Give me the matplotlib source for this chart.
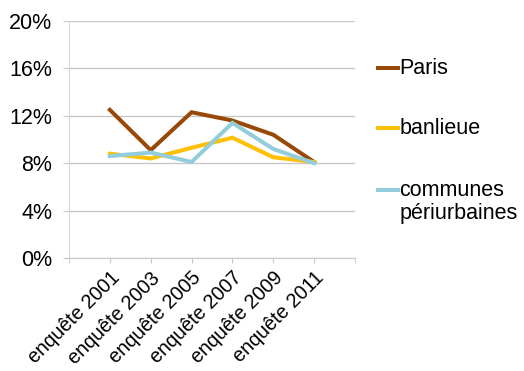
import matplotlib.pyplot as plt
from matplotlib.lines import Line2D
from matplotlib.ticker import FuncFormatter

plt.rcParams['font.family'] = ['Liberation Sans', 'DejaVu Sans']

categories = ['enquête 2001', 'enquête 2003', 'enquête 2005',
              'enquête 2007', 'enquête 2009', 'enquête 2011']
paris = [12.5, 9.1, 12.3, 11.6, 10.4, 8.1]
banlieue = [8.8, 8.4, 9.3, 10.15, 8.5, 8.1]
periurbaines = [8.6, 8.9, 8.1, 11.4, 9.2, 8.0]

series_names = ['Paris', 'banlieue', 'communes\npériurbaines']
colors = ['#984807', '#FFC000', '#92CDDC']

fig = plt.figure(figsize=(5.24, 3.71), dpi=100)
ax = fig.add_axes((0.1317, 0.3046, 0.5458, 0.6388))

x = list(range(len(categories)))
for vals, c in zip([paris, banlieue, periurbaines], colors):
    ax.plot(x, vals, color=c, lw=2.9, solid_joinstyle='miter')

grid_c = '#C8C8C8'
ax.set_xlim(-1, len(categories))
ax.set_ylim(0, 20)
ax.set_yticks(range(0, 21, 4))
ax.yaxis.set_major_formatter(FuncFormatter(lambda v, p: '%d%%' % v))
ax.grid(axis='y', color=grid_c, lw=1)
ax.set_axisbelow(True)

ax.set_xticks(x)
ax.set_xticklabels(categories, rotation=45, ha='right', rotation_mode='anchor')
ax.set_xticks([-1, len(categories)], minor=True)

for s in ['top', 'right']:
    ax.spines[s].set_visible(False)
ax.spines['left'].set_color('#D9D9D9')
ax.spines['bottom'].set_color(grid_c)
ax.tick_params(axis='both', which='both', colors=grid_c, labelcolor='black')
ax.tick_params(axis='y', length=4.5, pad=7.5, labelsize=15.5)
ax.tick_params(axis='x', which='both', length=3.5, pad=4, labelsize=14.2)

# legend drawn by hand so the handle sits on the first line of text
leg_y = [0.818, 0.654, 0.487]
for name, c, yy in zip(series_names, colors, leg_y):
    fig.add_artist(Line2D([0.722, 0.760], [yy, yy], color=c, lw=2.9,
                          transform=fig.transFigure))
    fig.text(0.762, yy + 0.027, name, fontsize=15.5, va='top', ha='left',
             linespacing=1.1)

fig.savefig('out.png', dpi=100)
